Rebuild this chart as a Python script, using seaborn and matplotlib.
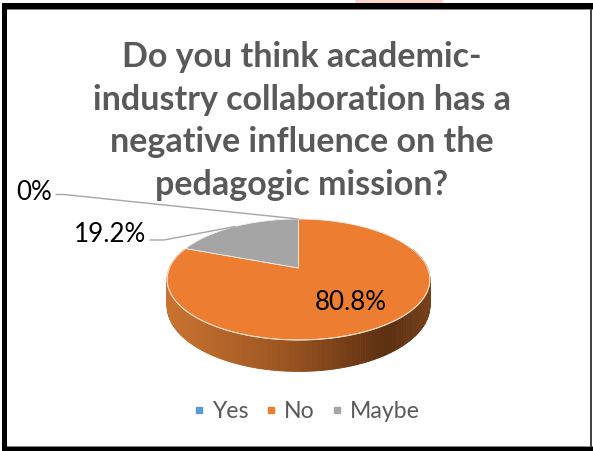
import numpy as np
import matplotlib
matplotlib.use("Agg")
import matplotlib.pyplot as plt
from matplotlib.patches import Polygon, Rectangle
from matplotlib.lines import Line2D
import matplotlib.colors as mcolors
import seaborn as sns

# ---- data -------------------------------------------------------------
categories = ["Yes", "No", "Maybe"]
shares = [0.0, 80.8, 19.2]
value_labels = ["0%", "80.8%", "19.2%"]
title_text = ("Do you think academic-\nindustry collaboration has a\n"
              "negative influence on the\npedagogic mission?")

sns.set_style("white")
colors = sns.color_palette(["#5B9BD5", "#ED7D31", "#A5A5A5"])
plt.rcParams["font.family"] = ["Lato", "DejaVu Sans"]

W, H = 593, 451
fig = plt.figure(figsize=(W / 100, H / 100), dpi=100)
ax = fig.add_axes([0, 0, 1, 1])
ax.set_xlim(0, W)
ax.set_ylim(H, 0)
ax.axis("off")

# ---- perspective projection of a flat disk ----------------------------
CX, CY = 298.5, 268.0      # projected centre of the disk
RX, RY = 129.0, 58.3       # horizontal / vertical radii
PERSP = 0.19               # perspective strength (far side smaller)
DEPTH = 25.5               # thickness of the disk


def proj(theta, z=0.0):
    x, y = np.cos(theta), np.sin(theta)
    w = 1.0 + PERSP * y
    return CX + RX * x / w, CY - RY * y / w + DEPTH * z / w


def px(p):
    return p * 0.72


# wedge angles: start at 12 o'clock, run clockwise
fracs = np.array(shares) / np.sum(shares)
starts = np.pi / 2 - 2 * np.pi * np.concatenate([[0], np.cumsum(fracs)[:-1]])
ends = starts - 2 * np.pi * fracs

# ---- side wall (front half, shaded left-to-right) --------------------
side_stops = mcolors.LinearSegmentedColormap.from_list(
    "side", [(0.0, "#c9722f"), (0.45, "#9b5420"), (0.85, "#5b2f10"), (1.0, "#74401a")])
ts = np.linspace(np.pi - 0.35, 2 * np.pi + 0.35, 240)
for t0, t1 in zip(ts[:-1], ts[1:]):
    xa, ya = proj(t0)
    xb, yb = proj(t1)
    xc, yc = proj(t1, 1)
    xd, yd = proj(t0, 1)
    frac = np.clip(((xa + xb) / 2 - (CX - RX)) / (2 * RX), 0, 1)
    col = side_stops(frac)
    ax.add_patch(Polygon([(xa, ya), (xb, yb), (xc, yc), (xd, yd)],
                         closed=True, facecolor=col, edgecolor=col, lw=0.6))

# ---- top face wedges -------------------------------------------------
for s, e, c in zip(starts, ends, colors):
    if s == e:
        continue
    tt = np.linspace(s, e, 200)
    xs, ys = proj(tt)
    pts = [(CX, CY)] + list(zip(xs, ys))
    ax.add_patch(Polygon(pts, closed=True, facecolor=c, edgecolor="#f4efe9", lw=0.6,
                         joinstyle="round"))

# light rim along the front edge
tt = np.linspace(np.pi, 2 * np.pi, 200)
xs, ys = proj(tt)
ax.plot(xs, ys, color="#f3d6bd", lw=0.8)

# ---- data labels with leader lines -----------------------------------
lab_col = "black"
ax.text(351, 302, value_labels[1], ha="center", va="center",
        fontsize=px(26), color=lab_col)

mid_yes = (starts[0] + ends[0]) / 2
mx, my = proj(mid_yes)
ax.text(34, 192, value_labels[0], ha="center", va="center", fontsize=px(26), color=lab_col)
ax.plot([56, 64, mx], [194.5, 194.5, my], color="#a6a6a6", lw=1.0)

mid_may = (starts[2] + ends[2]) / 2
mx, my = proj(mid_may)
ax.text(110, 235, value_labels[2], ha="center", va="center", fontsize=px(26), color=lab_col)
ax.plot([150, 164, mx], [240, 240, my], color="#a6a6a6", lw=1.0)

# ---- title -----------------------------------------------------------
ax.text(302, 121, title_text, ha="center", va="center", fontsize=px(34),
        fontweight="bold", color="#595959", linespacing=1.41)

# ---- legend ----------------------------------------------------------
handles = [Line2D([0], [0], marker="s", linestyle="none", markersize=4.5,
                  markerfacecolor=c, markeredgecolor=c) for c in colors]
ax.legend(handles, categories, loc="center", bbox_to_anchor=(306 / W, 1 - 412 / H),
          ncol=3, frameon=False, fontsize=px(23), labelcolor="#595959",
          handlelength=0.6, handletextpad=0.25, columnspacing=0.7)

# ---- frame -----------------------------------------------------------
ax.add_patch(Rectangle((355, 0), 88, 3, facecolor="#fcd6cc", edgecolor="none"))
ax.add_patch(Rectangle((2, 3), W - 2, 6, facecolor="black", edgecolor="none"))
ax.add_patch(Rectangle((2, 9), W - 2, 1, facecolor="#888888", edgecolor="none"))
ax.add_patch(Rectangle((2, 3), 5, H - 3, facecolor="black", edgecolor="none"))
ax.add_patch(Rectangle((2, 447), W - 2, 4, facecolor="black", edgecolor="none"))
ax.add_patch(Rectangle((7, 446), W - 7, 1, facecolor="#888888", edgecolor="none"))
ax.add_patch(Rectangle((590, 9), 1.5, 438, facecolor="#444444", edgecolor="none"))

fig.savefig("out.png", dpi=100)
